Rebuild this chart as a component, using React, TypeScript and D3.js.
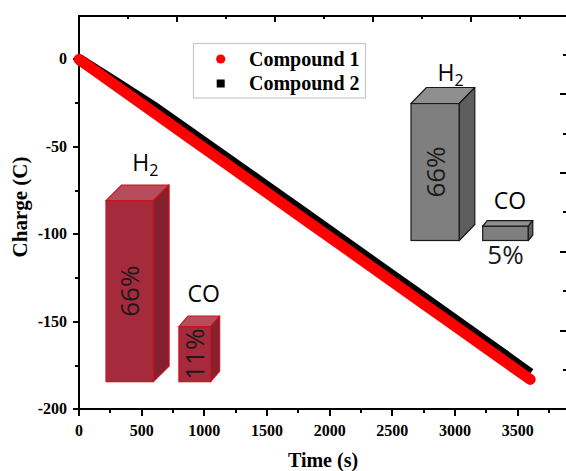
import { useEffect, useRef } from 'react';
import * as d3 from 'd3';

// charge vs time
const timeS = [0, 300, 600, 900, 1200, 1500, 1800, 2100, 2400, 2700, 3000, 3300, 3600];
const charge1 = [0, -15.3, -30.5, -45.8, -61.0, -76.2, -91.5, -106.7, -122.0, -137.2, -152.4, -167.7, -182.9];
const charge2 = [0, -13.6, -27.4, -42.5, -57.6, -72.8, -88.0, -103.2, -118.5, -133.7, -148.9, -164.2, -179.6];
const seriesNames = ['Compound 1', 'Compound 2'];

const xTicks = [0, 500, 1000, 1500, 2000, 2500, 3000, 3500];
const xMinor = [250, 750, 1250, 1750, 2250, 2750, 3250, 3750];
const yTicks = [0, -50, -100, -150, -200];
const yMinor = [-25, -75, -125, -175];

// faradaic efficiency insets
const gases = ['H2', 'CO'];
const yield1 = [66, 11];
const yield2 = [66, 5];

const serif = '"Liberation Serif", "Times New Roman", serif';
const sans = '"Open Sans", "Noto Sans", sans-serif';

export default function App() {
  const svgRef = useRef<SVGSVGElement>(null);

  useEffect(() => {
    if (!svgRef.current) return;
    const svg = d3.select(svgRef.current);
    svg.selectAll('*').remove();

    const x = d3.scaleLinear().domain([0, 3900]).range([79, 567.8]);
    const y = d3.scaleLinear().domain([-200, 25]).range([409.3, 15.6]);
    // the top/right frame carries ticks of its own spacing
    const xTop = d3.scaleLinear().domain([0, 2500]).range([79, 569]);
    const yRight = d3.scaleLinear().domain([0, 250]).range([409.3, 15.6]);

    const styleAxis = (g: any) => {
      g.select('.domain').remove();
      g.selectAll('line')
        .attr('stroke', '#000')
        .attr('stroke-width', 2)
        .attr('shape-rendering', 'crispEdges');
      g.selectAll('text')
        .attr('font-family', serif)
        .attr('font-weight', 'bold')
        .attr('font-size', 16)
        .attr('fill', '#000');
    };
    const num = (d: any) => String(d);
    const none = () => '';

    // bottom axis
    svg.append('g')
      .attr('transform', `translate(0,${y(-200)})`)
      .call(d3.axisBottom(x).offset(0).tickValues(xTicks).tickSize(7).tickPadding(8).tickFormat(num))
      .call(styleAxis);
    svg.append('g')
      .attr('transform', `translate(0,${y(-200)})`)
      .call(d3.axisBottom(x).offset(0).tickValues(xMinor).tickSize(4).tickFormat(none))
      .call(styleAxis);

    // left axis
    svg.append('g')
      .attr('transform', `translate(${x(0)},0)`)
      .call(d3.axisLeft(y).offset(0).tickValues(yTicks).tickSize(6).tickPadding(6).tickFormat(num))
      .call(styleAxis);
    svg.append('g')
      .attr('transform', `translate(${x(0)},0)`)
      .call(d3.axisLeft(y).offset(0).tickValues(yMinor).tickSize(4).tickFormat(none))
      .call(styleAxis);

    // top axis (inward ticks)
    svg.append('g')
      .attr('transform', `translate(0,${y(25)})`)
      .call(d3.axisBottom(xTop).offset(0).tickValues(d3.range(0, 2501, 500)).tickSize(6).tickFormat(none))
      .call(styleAxis);
    svg.append('g')
      .attr('transform', `translate(0,${y(25)})`)
      .call(d3.axisBottom(xTop).offset(0).tickValues(d3.range(250, 2500, 500)).tickSize(3.5).tickFormat(none))
      .call(styleAxis);

    // right axis (inward ticks, line sits just off the canvas)
    svg.append('g')
      .attr('transform', 'translate(567,0)')
      .call(d3.axisLeft(yRight).offset(0).tickValues(d3.range(0, 251, 50)).tickSize(7).tickFormat(none))
      .call(styleAxis);
    svg.append('g')
      .attr('transform', 'translate(567,0)')
      .call(d3.axisLeft(yRight).offset(0).tickValues(d3.range(25, 250, 50)).tickSize(4).tickFormat(none))
      .call(styleAxis);

    // frame
    const frame = svg.append('g')
      .attr('stroke', '#000')
      .attr('stroke-width', 2)
      .attr('shape-rendering', 'crispEdges');
    frame.append('line').attr('x1', x(0)).attr('x2', x(0)).attr('y1', y(25) - 1).attr('y2', y(-200) + 1);
    frame.append('line').attr('x1', x(0) - 1).attr('x2', x(3900)).attr('y1', y(-200)).attr('y2', y(-200));
    frame.append('line').attr('x1', x(0) - 1).attr('x2', x(3900)).attr('y1', y(25)).attr('y2', y(25));

    // data
    const line = d3.line<number>()
      .x((_, i) => x(timeS[i]))
      .y(d => y(d));

    svg.append('path')
      .datum(charge2)
      .attr('d', line)
      .attr('fill', 'none')
      .attr('stroke', '#000')
      .attr('stroke-width', 11)
      .attr('stroke-linecap', 'butt');

    svg.append('path')
      .datum(charge1)
      .attr('d', line)
      .attr('fill', 'none')
      .attr('stroke', '#ff0000')
      .attr('stroke-width', 11)
      .attr('stroke-linecap', 'round')
      .attr('stroke-linejoin', 'round');

    // axis titles
    svg.append('text')
      .attr('transform', 'translate(27,207) rotate(-90)')
      .attr('text-anchor', 'middle')
      .attr('font-family', serif)
      .attr('font-weight', 'bold')
      .attr('font-size', 21)
      .text('Charge (C)');

    svg.append('text')
      .attr('x', 323)
      .attr('y', 467)
      .attr('text-anchor', 'middle')
      .attr('font-family', serif)
      .attr('font-weight', 'bold')
      .attr('font-size', 20)
      .text('Time (s)');

    // legend
    const ly = d3.scalePoint().domain(seriesNames).range([59, 83.5]);
    const legend = svg.append('g');
    legend.append('rect')
      .attr('x', 193.5).attr('y', 43.5)
      .attr('width', 172).attr('height', 54.5)
      .attr('fill', '#fff')
      .attr('stroke', '#c8c8c8')
      .attr('stroke-width', 1.2);
    legend.append('circle')
      .attr('cx', 220.7).attr('cy', ly(seriesNames[0])!)
      .attr('r', 4.6).attr('fill', '#ff0000');
    legend.append('rect')
      .attr('x', 216.7).attr('y', ly(seriesNames[1])! - 4)
      .attr('width', 8).attr('height', 8).attr('fill', '#000');
    legend.selectAll('text.lbl')
      .data(seriesNames)
      .join('text')
      .attr('class', 'lbl')
      .attr('x', 249)
      .attr('y', d => ly(d)! + 6.5)
      .attr('font-family', serif)
      .attr('font-weight', 'bold')
      .attr('font-size', 20)
      .text(d => d);

    // 3D bar insets
    type Inset = {
      values: number[];
      xRange: [number, number];
      padding: number;
      widthFrac: number[];
      depth: [number, number][];
      valueDomain: [number, number];
      base: number;
      top: number;
      labelGap: number[];
      front: string;
      side: string;
      lid: string;
      stroke: string;
    };

    const drawInset = (o: Inset) => {
      const xb = d3.scaleBand().domain(gases).range(o.xRange).paddingInner(o.padding).paddingOuter(0);
      const hy = d3.scaleLinear().domain(o.valueDomain).range([o.base, o.top]);
      const g = svg.append('g');
      gases.forEach((gas, i) => {
        const v = o.values[i];
        const x0 = xb(gas)!;
        const w = xb.bandwidth() * o.widthFrac[i];
        const yt = hy(v);
        const yb = o.base;
        const [dx, dy] = o.depth[i];
        g.append('rect')
          .attr('x', x0).attr('y', yt).attr('width', w).attr('height', yb - yt)
          .attr('fill', o.front).attr('stroke', o.stroke).attr('stroke-width', 1.2);
        g.append('path')
          .attr('d', `M${x0},${yt}L${x0 + dx},${yt - dy}L${x0 + w + dx},${yt - dy}L${x0 + w},${yt}Z`)
          .attr('fill', o.lid).attr('stroke', o.stroke).attr('stroke-width', 1.2).attr('stroke-linejoin', 'round');
        g.append('path')
          .attr('d', `M${x0 + w},${yt}L${x0 + w + dx},${yt - dy}L${x0 + w + dx},${yb - dy}L${x0 + w},${yb}Z`)
          .attr('fill', o.side).attr('stroke', o.stroke).attr('stroke-width', 1.2).attr('stroke-linejoin', 'round');

        // gas name above
        const name = g.append('text')
          .attr('x', x0 + w / 2 + dx)
          .attr('y', yt - dy - o.labelGap[i])
          .attr('text-anchor', 'middle')
          .attr('font-family', sans)
          .attr('font-size', 23)
          .attr('fill', '#000');
        if (gas === 'H2') {
          name.append('tspan').text('H');
          name.append('tspan').attr('font-size', 16).attr('dy', 5).text('2');
        } else {
          name.text(gas);
        }

        // percentage
        const h = yb - yt;
        if (h > 45) {
          g.append('text')
            .attr('transform', `translate(${x0 + w / 2},${(yt + yb) / 2}) rotate(-90)`)
            .attr('text-anchor', 'middle')
            .attr('dy', '0.36em')
            .attr('font-family', sans)
            .attr('font-size', 26)
            .attr('fill', '#1a1a1a')
            .text(`${v}%`);
        } else {
          g.append('text')
            .attr('x', x0 + w / 2)
            .attr('y', yb + 23)
            .attr('text-anchor', 'middle')
            .attr('font-family', sans)
            .attr('font-size', 26)
            .attr('fill', '#1a1a1a')
            .text(`${v}%`);
        }
      });
    };

    drawInset({
      values: yield1,
      xRange: [106, 226.3],
      padding: 0.35,
      widthFrac: [1, 0.67],
      depth: [[15.7, 15.7], [9, 10.5]],
      valueDomain: [-13, 66],
      base: 381.7,
      top: 200.7,
      labelGap: [14, 14],
      front: '#a52a3c',
      side: '#86202f',
      lid: '#b64d5d',
      stroke: '#c8141e',
    });

    drawInset({
      values: yield2,
      xRange: [411, 531],
      padding: 0.326,
      widthFrac: [1, 0.944],
      depth: [[15.5, 16], [4.5, 5.5]],
      valueDomain: [-2.2, 66],
      base: 240.5,
      top: 103.5,
      labelGap: [7, 12],
      front: '#7f7f7f',
      side: '#5e5e5e',
      lid: '#8f8f8f',
      stroke: '#1a1a1a',
    });
  }, []);

  return (
    <svg
      ref={svgRef}
      width={566}
      height={471}
      style={{ position: 'absolute', left: 0, top: 0, background: '#fff' }}
    />
  );
}
